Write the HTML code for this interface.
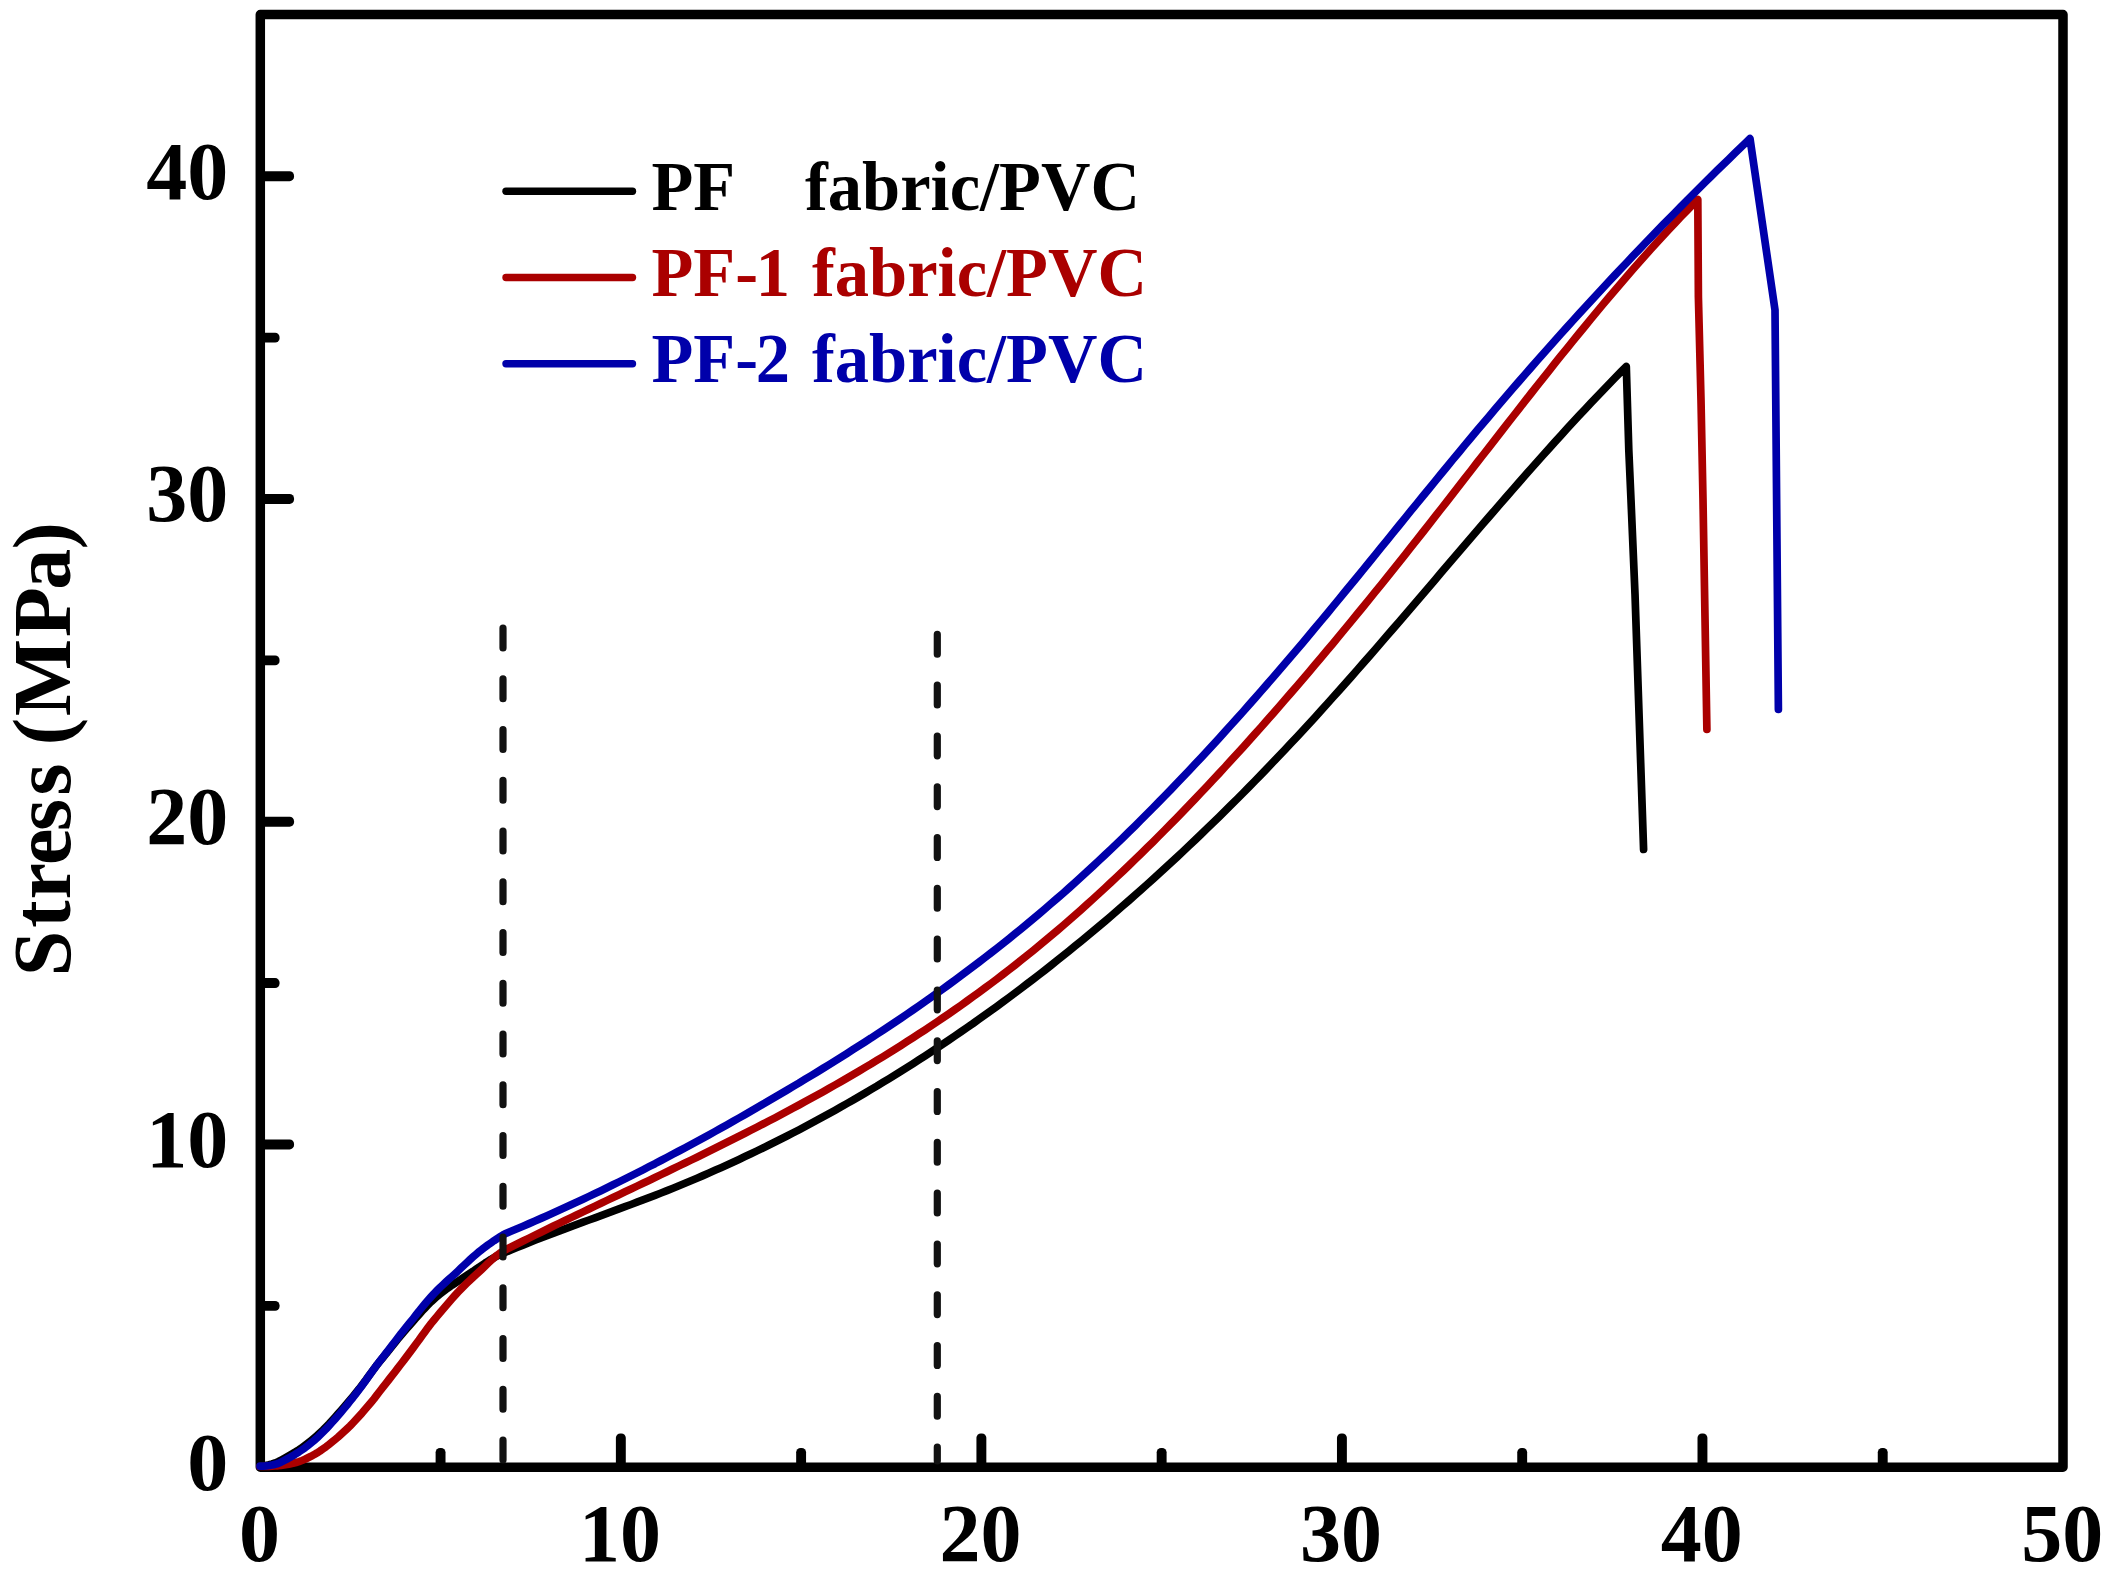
<!DOCTYPE html>
<html lang="en"><head><meta charset="utf-8"><title>Stress curves</title>
<style>
html,body{margin:0;padding:0;background:#fff;}
body{width:2110px;height:1576px;overflow:hidden;}
svg{display:block;}
text{font-family:"Liberation Serif","Times New Roman",serif;font-weight:bold;}
.tick{font-size:82px;fill:#000;}
.leg{font-size:70.5px;}
</style></head><body>
<svg width="2110" height="1576" viewBox="0 0 2110 1576" role="img" aria-label="Stress curves of PF, PF-1 and PF-2 fabric/PVC composites">
<rect x="0" y="0" width="2110" height="1576" fill="#fff"/>
<rect x="260.3" y="14.6" width="1802.7" height="1452.6" fill="none" stroke="#000" stroke-width="9.5" stroke-linejoin="round"/>
<g fill="#000" stroke="none">
<rect x="435.62" y="1447.95" width="9.9" height="19.25" rx="4.4" ry="4.4"/>
<rect x="615.89" y="1433.45" width="9.9" height="33.75" rx="4.4" ry="4.4"/>
<rect x="796.16" y="1447.95" width="9.9" height="19.25" rx="4.4" ry="4.4"/>
<rect x="976.43" y="1433.45" width="9.9" height="33.75" rx="4.4" ry="4.4"/>
<rect x="1156.70" y="1447.95" width="9.9" height="19.25" rx="4.4" ry="4.4"/>
<rect x="1336.97" y="1433.45" width="9.9" height="33.75" rx="4.4" ry="4.4"/>
<rect x="1517.24" y="1447.95" width="9.9" height="19.25" rx="4.4" ry="4.4"/>
<rect x="1697.51" y="1433.45" width="9.9" height="33.75" rx="4.4" ry="4.4"/>
<rect x="1877.78" y="1447.95" width="9.9" height="19.25" rx="4.4" ry="4.4"/>
<rect x="260.30" y="1300.88" width="19.25" height="9.9" rx="4.4" ry="4.4"/>
<rect x="260.30" y="1139.50" width="33.75" height="9.9" rx="4.4" ry="4.4"/>
<rect x="260.30" y="978.12" width="19.25" height="9.9" rx="4.4" ry="4.4"/>
<rect x="260.30" y="816.75" width="33.75" height="9.9" rx="4.4" ry="4.4"/>
<rect x="260.30" y="655.38" width="19.25" height="9.9" rx="4.4" ry="4.4"/>
<rect x="260.30" y="494.00" width="33.75" height="9.9" rx="4.4" ry="4.4"/>
<rect x="260.30" y="332.63" width="19.25" height="9.9" rx="4.4" ry="4.4"/>
<rect x="260.30" y="171.25" width="33.75" height="9.9" rx="4.4" ry="4.4"/>
</g>
<g class="tick">
<text x="259.5" y="1561" text-anchor="middle">0</text>
<text x="620.0" y="1561" text-anchor="middle">10</text>
<text x="980.6" y="1561" text-anchor="middle">20</text>
<text x="1341.1" y="1561" text-anchor="middle">30</text>
<text x="1701.7" y="1561" text-anchor="middle">40</text>
<text x="2062.2" y="1561" text-anchor="middle">50</text>
<text x="228.2" y="1489.5" text-anchor="end">0</text>
<text x="228.2" y="1166.8" text-anchor="end">10</text>
<text x="228.2" y="844.0" text-anchor="end">20</text>
<text x="228.2" y="521.2" text-anchor="end">30</text>
<text x="228.2" y="198.5" text-anchor="end">40</text>
</g>
<g transform="translate(69.5,0) rotate(-90)" font-size="82" fill="#000">
<text x="-976.3 -927.7 -899.6 -865.0 -831.0 -795.6" y="0">Stress</text>
<text x="-745.2 -716.3 -637.2 -589.7 -549.4" y="0">(MPa)</text>
</g>
<g fill="none" stroke-width="7.7" stroke-linejoin="round" stroke-linecap="round">
<path stroke="#000000" d="M260.0,1466.2 L263.0,1466.0 L266.0,1465.4 L269.0,1464.7 L272.0,1463.9 L275.0,1463.0 L278.0,1461.8 L281.0,1460.3 L284.0,1458.5 L287.0,1456.8 L290.0,1455.1 L293.0,1453.4 L296.0,1451.6 L299.0,1449.7 L302.0,1447.6 L305.0,1445.4 L308.0,1443.1 L311.0,1440.7 L314.0,1438.2 L317.0,1435.6 L320.0,1432.8 L323.0,1430.0 L326.0,1427.0 L329.0,1423.9 L332.0,1420.6 L335.0,1417.3 L338.0,1413.9 L341.0,1410.5 L344.0,1407.1 L347.0,1403.6 L350.0,1400.0 L353.0,1396.4 L356.0,1392.7 L359.0,1389.0 L362.0,1385.1 L365.0,1381.2 L368.0,1377.0 L371.0,1372.9 L374.0,1368.8 L377.0,1364.9 L380.0,1361.2 L383.0,1357.5 L386.0,1353.9 L389.0,1350.1 L392.0,1346.4 L395.0,1342.6 L398.0,1338.9 L401.0,1335.3 L404.0,1331.8 L407.0,1328.3 L410.0,1324.9 L413.0,1321.4 L416.0,1318.0 L419.0,1314.6 L422.0,1311.2 L425.0,1308.0 L428.0,1304.9 L431.0,1301.9 L434.0,1299.1 L437.0,1296.4 L440.0,1294.0 L443.0,1291.7 L446.0,1289.4 L449.0,1287.3 L452.0,1285.2 L455.0,1283.2 L458.0,1281.2 L461.0,1279.3 L464.0,1277.3 L467.0,1275.3 L470.0,1273.3 L473.0,1271.3 L476.0,1269.2 L479.0,1267.1 L482.0,1265.1 L485.0,1263.1 L488.0,1261.2 L491.0,1259.3 L494.0,1257.6 L497.0,1256.0 L500.0,1254.5 L503.0,1253.2 L505.0,1252.5 L511.0,1250.0 L517.0,1247.5 L523.0,1245.1 L529.0,1242.7 L535.0,1240.3 L541.0,1238.0 L547.0,1235.7 L553.0,1233.4 L559.0,1231.1 L565.0,1228.8 L571.0,1226.6 L577.0,1224.4 L583.0,1222.2 L589.0,1220.0 L595.0,1217.8 L601.0,1215.6 L607.0,1213.4 L613.0,1211.2 L619.0,1208.9 L625.0,1206.7 L631.0,1204.5 L637.0,1202.2 L643.0,1199.9 L649.0,1197.6 L655.0,1195.3 L661.0,1193.0 L667.0,1190.6 L673.0,1188.2 L679.0,1185.7 L685.0,1183.2 L691.0,1180.7 L697.0,1178.2 L703.0,1175.6 L709.0,1173.0 L715.0,1170.3 L721.0,1167.7 L727.0,1165.0 L733.0,1162.2 L739.0,1159.4 L745.0,1156.6 L751.0,1153.8 L757.0,1150.9 L763.0,1148.0 L769.0,1145.0 L775.0,1142.0 L781.0,1139.0 L787.0,1136.0 L793.0,1132.9 L799.0,1129.8 L805.0,1126.6 L811.0,1123.4 L817.0,1120.2 L823.0,1116.9 L829.0,1113.6 L835.0,1110.3 L841.0,1106.9 L847.0,1103.5 L853.0,1100.1 L859.0,1096.6 L865.0,1093.1 L871.0,1089.5 L877.0,1086.0 L883.0,1082.3 L889.0,1078.7 L895.0,1075.0 L901.0,1071.2 L907.0,1067.5 L913.0,1063.7 L919.0,1059.8 L925.0,1055.9 L931.0,1052.0 L937.0,1048.0 L943.0,1044.0 L949.0,1040.0 L955.0,1035.9 L961.0,1031.8 L967.0,1027.6 L973.0,1023.5 L979.0,1019.2 L985.0,1014.9 L991.0,1010.6 L997.0,1006.3 L1003.0,1001.9 L1009.0,997.5 L1015.0,993.0 L1021.0,988.5 L1027.0,983.9 L1033.0,979.4 L1039.0,974.7 L1045.0,970.1 L1051.0,965.4 L1057.0,960.6 L1063.0,955.8 L1069.0,951.0 L1075.0,946.1 L1081.0,941.2 L1087.0,936.3 L1093.0,931.3 L1099.0,926.2 L1105.0,921.2 L1111.0,916.1 L1117.0,910.9 L1123.0,905.7 L1129.0,900.5 L1135.0,895.2 L1141.0,889.9 L1147.0,884.5 L1153.0,879.1 L1159.0,873.7 L1165.0,868.2 L1171.0,862.7 L1177.0,857.1 L1183.0,851.5 L1189.0,845.8 L1195.0,840.1 L1201.0,834.4 L1207.0,828.6 L1213.0,822.8 L1219.0,816.9 L1225.0,811.0 L1231.0,805.1 L1237.0,799.1 L1243.0,793.1 L1249.0,787.0 L1255.0,780.9 L1261.0,774.7 L1267.0,768.5 L1273.0,762.2 L1279.0,755.9 L1285.0,749.6 L1291.0,743.2 L1297.0,736.8 L1303.0,730.3 L1309.0,723.8 L1315.0,717.3 L1321.0,710.7 L1327.0,704.0 L1333.0,697.3 L1339.0,690.6 L1345.0,683.9 L1351.0,677.1 L1357.0,670.3 L1363.0,663.4 L1369.0,656.6 L1375.0,649.7 L1381.0,642.8 L1387.0,635.8 L1393.0,628.9 L1399.0,621.9 L1405.0,614.9 L1411.0,607.9 L1417.0,600.9 L1423.0,593.9 L1429.0,586.9 L1435.0,579.9 L1441.0,572.8 L1447.0,565.8 L1453.0,558.8 L1459.0,551.8 L1465.0,544.8 L1471.0,537.8 L1477.0,530.8 L1483.0,523.8 L1489.0,516.9 L1495.0,509.9 L1501.0,503.0 L1507.0,496.1 L1513.0,489.2 L1519.0,482.4 L1525.0,475.5 L1531.0,468.8 L1537.0,462.0 L1543.0,455.3 L1549.0,448.6 L1555.0,441.9 L1561.0,435.3 L1567.0,428.7 L1573.0,422.2 L1579.0,415.7 L1585.0,409.3 L1591.0,402.9 L1597.0,396.6 L1603.0,390.3 L1609.0,384.1 L1615.0,377.9 L1621.0,371.8 L1626.3,366.5 L1628.8,450.0 L1631.0,500.0 L1635.0,594.0 L1643.6,849.5"/>
<path stroke="#aa0000" d="M260.0,1466.5 L263.0,1466.5 L266.0,1466.4 L269.0,1466.3 L272.0,1466.2 L275.0,1466.0 L278.0,1465.8 L281.0,1465.4 L284.0,1465.0 L287.0,1464.5 L290.0,1463.9 L293.0,1463.3 L296.0,1462.5 L299.0,1461.6 L302.0,1460.5 L305.0,1459.3 L308.0,1457.8 L311.0,1456.3 L314.0,1454.7 L317.0,1452.9 L320.0,1451.0 L323.0,1448.9 L326.0,1446.8 L329.0,1444.5 L332.0,1442.1 L335.0,1439.6 L338.0,1437.1 L341.0,1434.4 L344.0,1431.7 L347.0,1428.9 L350.0,1426.0 L353.0,1422.9 L356.0,1419.7 L359.0,1416.4 L362.0,1413.1 L365.0,1409.6 L368.0,1406.1 L371.0,1402.5 L374.0,1398.8 L377.0,1394.9 L380.0,1391.0 L383.0,1387.1 L386.0,1383.3 L389.0,1379.5 L392.0,1375.6 L395.0,1371.8 L398.0,1367.9 L401.0,1364.0 L404.0,1360.1 L407.0,1356.1 L410.0,1352.1 L413.0,1348.1 L416.0,1344.0 L419.0,1340.0 L422.0,1335.8 L425.0,1331.7 L428.0,1327.6 L431.0,1323.7 L434.0,1320.0 L437.0,1316.4 L440.0,1312.8 L443.0,1309.3 L446.0,1305.8 L449.0,1302.3 L452.0,1298.8 L455.0,1295.4 L458.0,1292.1 L461.0,1289.0 L464.0,1286.0 L467.0,1283.1 L470.0,1280.2 L473.0,1277.4 L476.0,1274.7 L479.0,1271.9 L482.0,1269.1 L485.0,1266.2 L488.0,1263.3 L491.0,1260.5 L494.0,1257.8 L497.0,1255.3 L500.0,1253.1 L503.0,1251.2 L505.0,1250.0 L511.0,1247.0 L517.0,1244.0 L523.0,1241.0 L529.0,1238.1 L535.0,1235.1 L541.0,1232.2 L547.0,1229.3 L553.0,1226.3 L559.0,1223.4 L565.0,1220.5 L571.0,1217.6 L577.0,1214.8 L583.0,1211.9 L589.0,1209.0 L595.0,1206.1 L601.0,1203.3 L607.0,1200.4 L613.0,1197.5 L619.0,1194.7 L625.0,1191.8 L631.0,1189.0 L637.0,1186.1 L643.0,1183.2 L649.0,1180.4 L655.0,1177.5 L661.0,1174.6 L667.0,1171.7 L673.0,1168.8 L679.0,1165.9 L685.0,1163.0 L691.0,1160.1 L697.0,1157.2 L703.0,1154.2 L709.0,1151.3 L715.0,1148.3 L721.0,1145.3 L727.0,1142.3 L733.0,1139.3 L739.0,1136.3 L745.0,1133.3 L751.0,1130.2 L757.0,1127.1 L763.0,1124.0 L769.0,1120.9 L775.0,1117.8 L781.0,1114.6 L787.0,1111.4 L793.0,1108.2 L799.0,1105.0 L805.0,1101.7 L811.0,1098.4 L817.0,1095.1 L823.0,1091.8 L829.0,1088.4 L835.0,1085.0 L841.0,1081.6 L847.0,1078.1 L853.0,1074.6 L859.0,1071.1 L865.0,1067.5 L871.0,1064.0 L877.0,1060.3 L883.0,1056.7 L889.0,1053.0 L895.0,1049.2 L901.0,1045.4 L907.0,1041.6 L913.0,1037.7 L919.0,1033.8 L925.0,1029.9 L931.0,1025.9 L937.0,1021.9 L943.0,1017.8 L949.0,1013.7 L955.0,1009.5 L961.0,1005.3 L967.0,1001.0 L973.0,996.7 L979.0,992.4 L985.0,987.9 L991.0,983.5 L997.0,979.0 L1003.0,974.4 L1009.0,969.8 L1015.0,965.1 L1021.0,960.3 L1027.0,955.5 L1033.0,950.7 L1039.0,945.8 L1045.0,940.8 L1051.0,935.8 L1057.0,930.7 L1063.0,925.6 L1069.0,920.4 L1075.0,915.1 L1081.0,909.8 L1087.0,904.4 L1093.0,899.0 L1099.0,893.5 L1105.0,888.0 L1111.0,882.4 L1117.0,876.8 L1123.0,871.1 L1129.0,865.4 L1135.0,859.6 L1141.0,853.7 L1147.0,847.8 L1153.0,841.9 L1159.0,835.9 L1165.0,829.9 L1171.0,823.8 L1177.0,817.7 L1183.0,811.5 L1189.0,805.3 L1195.0,799.0 L1201.0,792.7 L1207.0,786.3 L1213.0,779.9 L1219.0,773.5 L1225.0,767.0 L1231.0,760.4 L1237.0,753.9 L1243.0,747.3 L1249.0,740.6 L1255.0,733.9 L1261.0,727.2 L1267.0,720.4 L1273.0,713.6 L1279.0,706.7 L1285.0,699.8 L1291.0,692.9 L1297.0,685.9 L1303.0,678.9 L1309.0,671.9 L1315.0,664.8 L1321.0,657.7 L1327.0,650.5 L1333.0,643.4 L1339.0,636.1 L1345.0,628.9 L1351.0,621.6 L1357.0,614.3 L1363.0,607.0 L1369.0,599.6 L1375.0,592.2 L1381.0,584.8 L1387.0,577.3 L1393.0,569.8 L1399.0,562.3 L1405.0,554.8 L1411.0,547.2 L1417.0,539.6 L1423.0,532.0 L1429.0,524.3 L1435.0,516.7 L1441.0,509.0 L1447.0,501.3 L1453.0,493.6 L1459.0,485.9 L1465.0,478.2 L1471.0,470.5 L1477.0,462.7 L1483.0,455.0 L1489.0,447.3 L1495.0,439.6 L1501.0,431.8 L1507.0,424.2 L1513.0,416.5 L1519.0,408.8 L1525.0,401.1 L1531.0,393.5 L1537.0,385.9 L1543.0,378.3 L1549.0,370.8 L1555.0,363.2 L1561.0,355.7 L1567.0,348.3 L1573.0,340.9 L1579.0,333.5 L1585.0,326.2 L1591.0,318.9 L1597.0,311.6 L1603.0,304.4 L1609.0,297.3 L1615.0,290.2 L1621.0,283.2 L1627.0,276.2 L1633.0,269.3 L1639.0,262.5 L1645.0,255.7 L1651.0,249.0 L1657.0,242.4 L1663.0,235.9 L1669.0,229.4 L1675.0,223.0 L1681.0,216.7 L1687.0,210.5 L1693.0,204.3 L1697.8,199.5 L1698.4,297.0 L1701.0,400.0 L1703.0,500.0 L1706.9,729.5"/>
<path stroke="#0000aa" d="M260.0,1466.2 L263.0,1466.2 L266.0,1465.9 L269.0,1465.5 L272.0,1465.0 L275.0,1464.4 L278.0,1463.5 L281.0,1462.2 L284.0,1460.6 L287.0,1459.0 L290.0,1457.4 L293.0,1455.7 L296.0,1453.8 L299.0,1451.9 L302.0,1449.9 L305.0,1447.8 L308.0,1445.5 L311.0,1443.1 L314.0,1440.6 L317.0,1437.9 L320.0,1435.0 L323.0,1432.0 L326.0,1429.0 L329.0,1425.8 L332.0,1422.5 L335.0,1419.1 L338.0,1415.7 L341.0,1412.2 L344.0,1408.6 L347.0,1405.0 L350.0,1401.2 L353.0,1397.5 L356.0,1393.6 L359.0,1389.7 L362.0,1385.7 L365.0,1381.6 L368.0,1377.3 L371.0,1373.0 L374.0,1368.9 L377.0,1364.8 L380.0,1360.9 L383.0,1357.1 L386.0,1353.2 L389.0,1349.3 L392.0,1345.4 L395.0,1341.5 L398.0,1337.6 L401.0,1333.7 L404.0,1330.0 L407.0,1326.2 L410.0,1322.5 L413.0,1318.8 L416.0,1315.0 L419.0,1311.1 L422.0,1307.4 L425.0,1303.8 L428.0,1300.3 L431.0,1296.9 L434.0,1293.6 L437.0,1290.5 L440.0,1287.5 L443.0,1284.7 L446.0,1281.9 L449.0,1279.2 L452.0,1276.5 L455.0,1273.8 L458.0,1271.0 L461.0,1268.1 L464.0,1265.3 L467.0,1262.4 L470.0,1259.6 L473.0,1256.9 L476.0,1254.3 L479.0,1251.8 L482.0,1249.4 L485.0,1247.2 L488.0,1244.9 L491.0,1242.8 L494.0,1240.7 L497.0,1238.7 L500.0,1236.8 L503.0,1234.9 L505.0,1233.8 L511.0,1231.3 L517.0,1228.7 L523.0,1226.2 L529.0,1223.6 L535.0,1221.0 L541.0,1218.4 L547.0,1215.7 L553.0,1213.0 L559.0,1210.3 L565.0,1207.6 L571.0,1204.8 L577.0,1202.1 L583.0,1199.3 L589.0,1196.4 L595.0,1193.6 L601.0,1190.7 L607.0,1187.8 L613.0,1184.8 L619.0,1181.9 L625.0,1178.9 L631.0,1175.9 L637.0,1172.9 L643.0,1169.8 L649.0,1166.7 L655.0,1163.7 L661.0,1160.5 L667.0,1157.4 L673.0,1154.2 L679.0,1151.0 L685.0,1147.8 L691.0,1144.6 L697.0,1141.4 L703.0,1138.1 L709.0,1134.8 L715.0,1131.5 L721.0,1128.1 L727.0,1124.8 L733.0,1121.4 L739.0,1118.0 L745.0,1114.6 L751.0,1111.1 L757.0,1107.7 L763.0,1104.2 L769.0,1100.7 L775.0,1097.2 L781.0,1093.7 L787.0,1090.1 L793.0,1086.5 L799.0,1083.0 L805.0,1079.3 L811.0,1075.7 L817.0,1072.1 L823.0,1068.4 L829.0,1064.7 L835.0,1061.0 L841.0,1057.2 L847.0,1053.4 L853.0,1049.6 L859.0,1045.8 L865.0,1041.9 L871.0,1038.1 L877.0,1034.1 L883.0,1030.2 L889.0,1026.2 L895.0,1022.2 L901.0,1018.2 L907.0,1014.1 L913.0,1010.0 L919.0,1005.8 L925.0,1001.6 L931.0,997.4 L937.0,993.1 L943.0,988.8 L949.0,984.5 L955.0,980.1 L961.0,975.7 L967.0,971.2 L973.0,966.7 L979.0,962.1 L985.0,957.5 L991.0,952.9 L997.0,948.2 L1003.0,943.5 L1009.0,938.7 L1015.0,933.8 L1021.0,929.0 L1027.0,924.0 L1033.0,919.0 L1039.0,914.0 L1045.0,908.9 L1051.0,903.7 L1057.0,898.5 L1063.0,893.3 L1069.0,888.0 L1075.0,882.6 L1081.0,877.2 L1087.0,871.7 L1093.0,866.1 L1099.0,860.5 L1105.0,854.9 L1111.0,849.2 L1117.0,843.5 L1123.0,837.7 L1129.0,831.8 L1135.0,825.9 L1141.0,819.9 L1147.0,813.9 L1153.0,807.9 L1159.0,801.8 L1165.0,795.6 L1171.0,789.5 L1177.0,783.2 L1183.0,776.9 L1189.0,770.6 L1195.0,764.2 L1201.0,757.8 L1207.0,751.3 L1213.0,744.8 L1219.0,738.3 L1225.0,731.7 L1231.0,725.0 L1237.0,718.4 L1243.0,711.7 L1249.0,704.9 L1255.0,698.1 L1261.0,691.3 L1267.0,684.4 L1273.0,677.5 L1279.0,670.5 L1285.0,663.5 L1291.0,656.5 L1297.0,649.5 L1303.0,642.4 L1309.0,635.2 L1315.0,628.1 L1321.0,620.9 L1327.0,613.7 L1333.0,606.4 L1339.0,599.1 L1345.0,591.8 L1351.0,584.5 L1357.0,577.2 L1363.0,569.8 L1369.0,562.5 L1375.0,555.1 L1381.0,547.7 L1387.0,540.3 L1393.0,532.9 L1399.0,525.5 L1405.0,518.1 L1411.0,510.7 L1417.0,503.4 L1423.0,496.0 L1429.0,488.7 L1435.0,481.3 L1441.0,474.0 L1447.0,466.7 L1453.0,459.4 L1459.0,452.2 L1465.0,444.9 L1471.0,437.7 L1477.0,430.6 L1483.0,423.5 L1489.0,416.4 L1495.0,409.3 L1501.0,402.3 L1507.0,395.3 L1513.0,388.3 L1519.0,381.4 L1525.0,374.5 L1531.0,367.6 L1537.0,360.8 L1543.0,354.0 L1549.0,347.3 L1555.0,340.5 L1561.0,333.8 L1567.0,327.2 L1573.0,320.5 L1579.0,313.9 L1585.0,307.4 L1591.0,300.8 L1597.0,294.3 L1603.0,287.9 L1609.0,281.4 L1615.0,275.0 L1621.0,268.6 L1627.0,262.3 L1633.0,255.9 L1639.0,249.7 L1645.0,243.4 L1651.0,237.2 L1657.0,231.0 L1663.0,224.8 L1669.0,218.7 L1675.0,212.6 L1681.0,206.5 L1687.0,200.4 L1693.0,194.4 L1699.0,188.4 L1705.0,182.4 L1711.0,176.5 L1717.0,170.6 L1723.0,164.7 L1729.0,158.9 L1735.0,153.0 L1741.0,147.2 L1747.0,141.5 L1750.0,138.6 L1775.0,310.0 L1778.4,709.5"/>
</g>
<g stroke="#121212" stroke-width="7.2" stroke-linecap="round" fill="none">
<line x1="503" y1="628.2" x2="503" y2="1461" stroke-dasharray="19.8 30.95"/>
<line x1="937.3" y1="634.4" x2="937.3" y2="1461" stroke-dasharray="19.8 31.0"/>
</g>
<g stroke-width="7.4" stroke-linecap="round" fill="none">
<line x1="506" y1="191.3" x2="632.5" y2="191.3" stroke="#000"/>
<line x1="506" y1="277.5" x2="632.5" y2="277.5" stroke="#aa0000"/>
<line x1="506" y1="363.8" x2="632.5" y2="363.8" stroke="#0000aa"/>
</g>
<g class="leg" transform="scale(0.972,1)">
<text y="210" fill="#000"><tspan x="670.3">PF</tspan> <tspan x="828.2">fabric/PVC</tspan></text>
<text y="296.3" fill="#aa0000"><tspan x="670.3">PF-</tspan><tspan dx="-2.5">1</tspan> <tspan x="835.4">fabric/PVC</tspan></text>
<text y="382.5" fill="#0000aa"><tspan x="670.3">PF-</tspan><tspan dx="-2.5">2</tspan> <tspan x="835.4">fabric/PVC</tspan></text>
</g>
</svg>
</body></html>
